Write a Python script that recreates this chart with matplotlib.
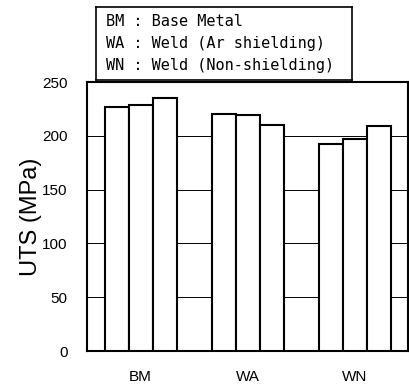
import numpy as np
import matplotlib
matplotlib.use("Agg")
import matplotlib.pyplot as plt

# data
groups = ["BM", "WA", "WN"]
uts_1 = [227, 220, 192]
uts_2 = [229, 219, 197]
uts_3 = [235, 210, 209]
legend_lines = ["BM : Base Metal",
                "WA : Weld (Ar shielding)",
                "WN : Weld (Non-shielding)"]
yticks = [0, 50, 100, 150, 200, 250]

plt.rcParams['font.family'] = ['Liberation Sans', 'DejaVu Sans']

fig = plt.figure(figsize=(4.09, 3.87), dpi=100)
ax = fig.add_axes([0.213, 0.093, 0.785, 0.695])

x = np.arange(len(groups))
w = 0.224
for i, vals in enumerate([uts_1, uts_2, uts_3]):
    ax.bar(x + (i - 1) * w, vals, width=w, color="white", edgecolor="black",
           linewidth=1.5, zorder=3)

ax.set_xlim(-0.5, 2.5)
ax.set_ylim(0, 250)
ax.set_yticks(yticks)
ax.set_xticks(x)
ax.set_xticklabels(groups, fontsize=11)
ax.tick_params(axis="y", length=0, pad=14, labelsize=11)
ax.tick_params(axis="x", length=0, pad=14)
for y in yticks[1:-1]:
    ax.axhline(y, color="black", linewidth=0.7, zorder=1)
for s in ax.spines.values():
    s.set_linewidth(1.5)
ax.set_ylabel("UTS (MPa)", fontsize=17, labelpad=0)

# legend box
lax = fig.add_axes([0.235, 0.793, 0.626, 0.189])
lax.set_xticks([])
lax.set_yticks([])
for s in lax.spines.values():
    s.set_linewidth(1.2)
for i, t in enumerate(legend_lines):
    lax.text(0.04, 0.80 - i * 0.30, t, family="DejaVu Sans Mono", fontsize=11,
             va="center", ha="left", transform=lax.transAxes)

fig.savefig("out.png", dpi=100)
